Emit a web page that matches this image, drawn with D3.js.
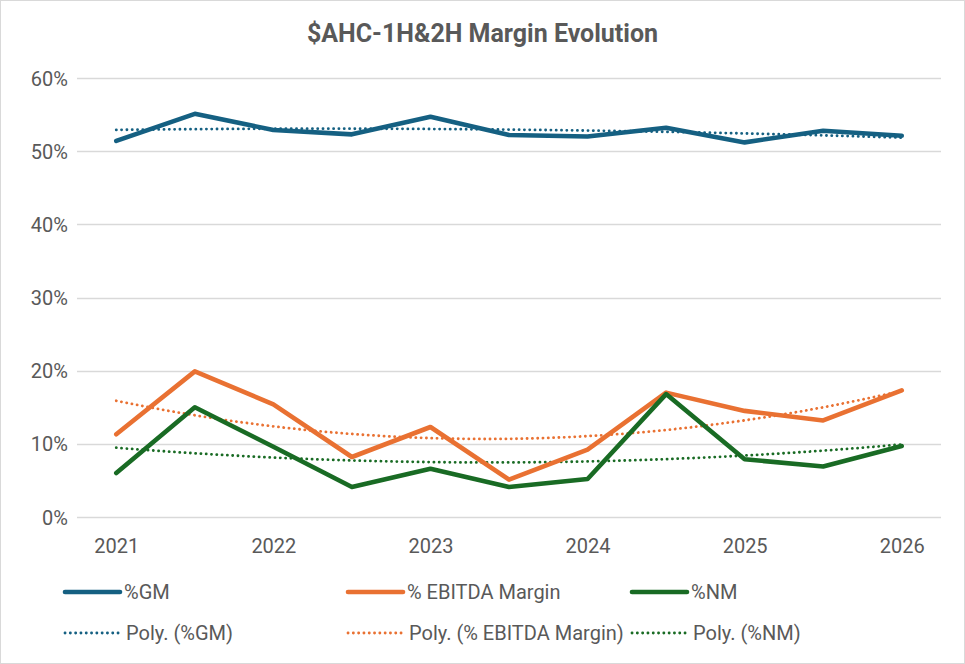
<!DOCTYPE html>
<html>
<head>
<meta charset="utf-8">
<script src="https://cdn.jsdelivr.net/npm/d3@7"></script>
<style>
  body { margin: 0; background: #fff; }
  #chart text { font-family: Roboto, "Open Sans", sans-serif; fill: #595959; }
</style>
</head>
<body>
<div id="chart"></div>
<script>
// half-year periods, 1H/2H
var periods = ["1H21","2H21","1H22","2H22","1H23","2H23","1H24","2H24","1H25","2H25","1H26"];
var tickLabels = ["2021","","2022","","2023","","2024","","2025","","2026"];
var yTicks = [0, 0.1, 0.2, 0.3, 0.4, 0.5, 0.6];

var gm     = [0.514, 0.551, 0.529, 0.523, 0.547, 0.522, 0.520, 0.532, 0.512, 0.528, 0.521];
var ebitda = [0.113, 0.199, 0.154, 0.082, 0.123, 0.051, 0.092, 0.170, 0.145, 0.132, 0.173];
var nm     = [0.060, 0.150, 0.096, 0.041, 0.066, 0.041, 0.052, 0.168, 0.079, 0.069, 0.097];

var seriesNames = ["%GM", "% EBITDA Margin", "%NM"];
var seriesColors = ["#156082", "#E97132", "#196B24"];

var W = 965, H = 664;
var svg = d3.select("#chart").append("svg").attr("width", W).attr("height", H);

svg.append("rect").attr("x", 0.5).attr("y", 0.5).attr("width", W - 1).attr("height", H - 1)
  .attr("fill", "#fff").attr("stroke", "#D9D9D9");

var x = d3.scalePoint().domain(periods).range([77, 941]).padding(0.5);
var y = d3.scaleLinear().domain([0, 0.6]).range([517, 78]);

// gridlines
svg.append("g").selectAll("line").data(yTicks).enter().append("line")
  .attr("x1", 77).attr("x2", 941)
  .attr("y1", function(d) { return Math.round(y(d)) + 0.5; })
  .attr("y2", function(d) { return Math.round(y(d)) + 0.5; })
  .attr("stroke", "#D9D9D9").attr("stroke-width", 1.3);

// y axis labels
var yAxis = d3.axisLeft(y).tickValues(yTicks).tickFormat(d3.format(".0%")).tickSize(0).tickPadding(9);
var gy = svg.append("g").attr("transform", "translate(77,0)").call(yAxis);
gy.select(".domain").remove();
gy.selectAll("text").style("font-size", "20px").attr("dy", "0.35em");

// x axis labels
var xAxis = d3.axisBottom(x).tickFormat(function(d, i) { return tickLabels[i]; }).tickSize(0).tickPadding(22);
var gx = svg.append("g").attr("transform", "translate(0,517)").call(xAxis);
gx.select(".domain").remove();
gx.selectAll("text").style("font-size", "20px");

// title
svg.append("text").attr("x", W / 2).attr("y", 42).attr("text-anchor", "middle")
  .style("font-size", "25px").style("font-weight", "bold").text("$AHC-1H&2H Margin Evolution");

// 2nd order polynomial trendline (least squares, x = 1..n)
function polyFit(vals) {
  var n = vals.length, s = [0,0,0,0,0], t = [0,0,0];
  for (var i = 0; i < n; i++) {
    var xi = i + 1;
    for (var k = 0; k < 5; k++) s[k] += Math.pow(xi, k);
    for (var k = 0; k < 3; k++) t[k] += vals[i] * Math.pow(xi, k);
  }
  var A = [[s[0], s[1], s[2], t[0]], [s[1], s[2], s[3], t[1]], [s[2], s[3], s[4], t[2]]];
  for (var c = 0; c < 3; c++) {
    for (var r = c + 1; r < 3; r++) {
      var f = A[r][c] / A[c][c];
      for (var k = c; k < 4; k++) A[r][k] -= f * A[c][k];
    }
  }
  var b = [0,0,0];
  for (var r = 2; r >= 0; r--) {
    var sum = A[r][3];
    for (var k = r + 1; k < 3; k++) sum -= A[r][k] * b[k];
    b[r] = sum / A[r][r];
  }
  return function(xv) { return b[0] + b[1] * xv + b[2] * xv * xv; };
}

var data = [gm, ebitda, nm];
var trendLine = d3.line()
  .x(function(d) { return d[0]; })
  .y(function(d) { return y(d[1]); })
  .curve(d3.curveBasis);

var valueLine = d3.line()
  .x(function(d, i) { return x(periods[i]); })
  .y(function(d) { return y(d); });

var dots = "0.1 5.2";

data.forEach(function(vals, si) {
  var f = polyFit(vals);
  var pts = [];
  for (var j = 0; j <= 100; j++) {
    var t = j / 100 * (periods.length - 1);
    pts.push([x(periods[0]) + t * x.step(), f(t + 1)]);
  }
  svg.append("path").datum(pts).attr("d", trendLine)
    .attr("fill", "none").attr("stroke", seriesColors[si]).attr("stroke-width", 2.8)
    .attr("stroke-dasharray", dots).attr("stroke-linecap", "round");
});

data.forEach(function(vals, si) {
  svg.append("path").datum(vals).attr("d", valueLine)
    .attr("fill", "none").attr("stroke", seriesColors[si]).attr("stroke-width", 4.6)
    .attr("stroke-linecap", "round").attr("stroke-linejoin", "round");
});

// legend
var legCols = [65, 348, 632];
var leg = svg.append("g");
seriesNames.forEach(function(name, i) {
  leg.append("line").attr("x1", legCols[i]).attr("x2", legCols[i] + 55).attr("y1", 592).attr("y2", 592)
    .attr("stroke", seriesColors[i]).attr("stroke-width", 4.6).attr("stroke-linecap", "round");
  leg.append("text").attr("x", legCols[i] + 59).attr("y", 592).attr("dy", "0.35em")
    .style("font-size", "20px").text(name);
  leg.append("line").attr("x1", legCols[i]).attr("x2", legCols[i] + 55).attr("y1", 633).attr("y2", 633)
    .attr("stroke", seriesColors[i]).attr("stroke-width", 2.8)
    .attr("stroke-dasharray", dots).attr("stroke-linecap", "round");
  leg.append("text").attr("x", legCols[i] + 61).attr("y", 633).attr("dy", "0.35em")
    .style("font-size", "20px").text("Poly. (" + name + ")");
});
</script>
</body>
</html>
